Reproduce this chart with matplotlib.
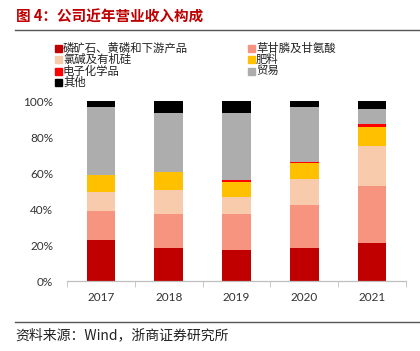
import matplotlib
matplotlib.use("Agg")
import matplotlib.pyplot as plt
from matplotlib.patches import Rectangle
from matplotlib.lines import Line2D
import numpy as np

plt.rcParams['font.family'] = ['Noto Sans CJK SC', 'DejaVu Sans']

years = ['2017', '2018', '2019', '2020', '2021']
series_names = ['磷矿石、黄磷和下游产品', '草甘膦及甘氨酸', '氯碱及有机硅', '肥料',
                '电子化学品', '贸易', '其他']
phos     = [23.0, 18.7, 17.6, 18.7, 21.3]
glyph    = [16.0, 18.8, 19.9, 23.8, 31.7]
chlor    = [10.3, 13.1, 9.5, 14.2, 22.0]
fert     = [9.6, 10.2, 8.3, 8.7, 10.8]
elec     = [0.0, 0.0, 0.9, 0.8, 1.6]
trade    = [38.0, 32.5, 37.0, 30.3, 8.3]
other    = [3.1, 6.7, 6.8, 3.5, 4.3]
values = [phos, glyph, chlor, fert, elec, trade, other]
colors = ['#C00000', '#F79480', '#F8CBAD', '#FFC000', '#FF0000', '#ADADAD', '#000000']

fig = plt.figure(figsize=(4.2, 3.51), dpi=100)
W, H = 420, 351

ax = fig.add_axes([67 / W, 1 - 281.3 / H, 339 / W, 180.3 / H])
x = np.arange(len(years))
bottom = np.zeros(len(years))
for vals, c in zip(values, colors):
    ax.bar(x, vals, bottom=bottom, width=0.42, color=c, edgecolor='none', zorder=2)
    bottom += np.array(vals)

ax.set_ylim(0, 100)
ax.set_xlim(-0.5, len(years) - 0.5)
ax.set_yticks(np.arange(0, 101, 20))
ax.set_yticklabels([f'{v}%' for v in range(0, 101, 20)], fontsize=8.5, color='#333333',
                   family=['Lato'])
ax.set_xticks(x)
ax.set_xticklabels(years, fontsize=8.5, color='#333333', family=['Lato'])
ax.set_xticks(np.arange(-0.5, len(years), 1), minor=True)
ax.tick_params(axis='x', which='major', length=0, pad=8)
ax.tick_params(axis='x', which='minor', length=4, color='#BFBFBF', direction='out')
ax.tick_params(axis='y', length=0, pad=10)
for s in ['top', 'right', 'left']:
    ax.spines[s].set_visible(False)
ax.spines['bottom'].set_color('#BFBFBF')
ax.spines['bottom'].set_linewidth(0.9)

# Title
fig.text(16 / W, 1 - 17 / H, '图 4：公司近年营业收入构成', fontsize=10.5, fontweight='bold',
         color='#C00000', va='center', ha='left')
fig.add_artist(Line2D([15 / W, 1.0], [1 - 30 / H, 1 - 30 / H], color='#555555', lw=1.0))

# Legend (manual, Excel row-major order)
col_x = [55, 248]
row_y = [48, 59.5, 71, 82.5]
for i, (name, c) in enumerate(zip(series_names, colors)):
    r, col = divmod(i, 2)
    mx = col_x[col]
    my = row_y[r]
    fig.add_artist(Rectangle((mx / W, 1 - (my + 3.5) / H), 7 / W, 7 / H, color=c,
                             transform=fig.transFigure))
    fig.text((mx + 8) / W, 1 - my / H, name, fontsize=8.2, color='#222222', va='center',
             ha='left')

# Source
fig.add_artist(Line2D([15 / W, 1.0], [1 - 322 / H, 1 - 322 / H], color='#555555', lw=1.0))
fig.text(15 / W, 1 - 335 / H, '资料来源：Wind，浙商证券研究所', fontsize=10, color='#222222',
         va='center', ha='left')

fig.savefig('out.png', dpi=100)
